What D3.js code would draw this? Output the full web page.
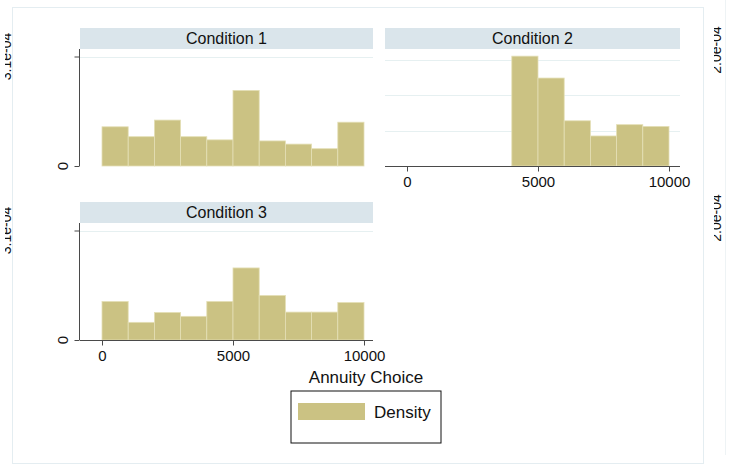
<!DOCTYPE html>
<html>
<head>
<meta charset="utf-8">
<script src="https://cdn.jsdelivr.net/npm/d3@7"></script>
<style>
  html, body { margin: 0; padding: 0; background: #fff; }
  svg { display: block; font-family: "Liberation Sans", Arial, sans-serif; }
</style>
</head>
<body>
<svg width="730" height="464"></svg>
<script>
// histogram bins (lower edge) and densities, in units of 1e-4
const binWidth = 1000;
const cond1Bins = [0, 1000, 2000, 3000, 4000, 5000, 6000, 7000, 8000, 9000];
const cond1Density = [1.11, 0.83, 1.30, 0.83, 0.74, 2.14, 0.71, 0.62, 0.49, 1.24];
const cond2Bins = [4000, 5000, 6000, 7000, 8000, 9000];
const cond2Density = [3.11, 2.49, 1.28, 0.85, 1.17, 1.12];
const cond3Bins = [0, 1000, 2000, 3000, 4000, 5000, 6000, 7000, 8000, 9000];
const cond3Density = [1.09, 0.50, 0.78, 0.67, 1.09, 2.04, 1.26, 0.79, 0.79, 1.06];

const panelTitles = ["Condition 1", "Condition 2", "Condition 3"];
const xTicks = [0, 5000, 10000];
const yTicks = [0, 3.1e-4];
const yTickLabels = ["0", "3.1e-04"];
const gridTicks = [1e-4, 2e-4, 3e-4];
const rightLabel = "2.0e-04";
const xTitle = "Annuity Choice";
const legendLabel = "Density";

const svg = d3.select("svg");
const barFill = "#cbc283";
const stripFill = "#dae5eb";
const axisColor = "#4a4a4a";

// outer graph region
svg.append("rect").attr("x", 12.5).attr("y", 7.5).attr("width", 691).attr("height", 456)
  .attr("fill", "none").attr("stroke", "#e4edf1");
svg.append("line").attr("x1", 725.5).attr("x2", 725.5).attr("y1", 0).attr("y2", 455)
  .attr("stroke", "#eef3f5");

// edge labels are partly cut off in the original
svg.append("defs").append("clipPath").attr("id", "clipLeft")
  .append("rect").attr("x", 5).attr("y", 0).attr("width", 725).attr("height", 464);
svg.select("defs").append("clipPath").attr("id", "clipRight")
  .append("rect").attr("x", 714).attr("y", 0).attr("width", 16).attr("height", 464);

const panels = [
  { title: panelTitles[0], bins: cond1Bins, dens: cond1Density, left: 80, right: 373, base: 166, strip: 28, yAxis: true, xAxis: false, grid: "top" },
  { title: panelTitles[1], bins: cond2Bins, dens: cond2Density, left: 385, right: 680, base: 166, strip: 28, yAxis: false, xAxis: true, grid: "all" },
  { title: panelTitles[2], bins: cond3Bins, dens: cond3Density, left: 80, right: 373, base: 340, strip: 202, yAxis: true, xAxis: true, grid: "top" }
];

panels.forEach(function (p, i) {
  let x = d3.scaleLinear().domain([0, 10000]).range([p.left + 22, p.left + 284]);
  let y = d3.scaleLinear().domain([0, 3.1e-4]).range([p.base, p.base - 109.5]);

  // strip
  svg.append("rect").attr("x", p.left).attr("y", p.strip)
    .attr("width", p.right - p.left).attr("height", 21).attr("fill", stripFill);
  svg.append("text").attr("x", (p.left + p.right) / 2).attr("y", p.strip + 16)
    .attr("text-anchor", "middle").attr("font-size", 16).attr("fill", "#111").text(p.title);

  // gridlines
  let gv = p.grid === "top" ? [yTicks[1]] : gridTicks;
  svg.append("g").selectAll("line").data(gv).enter().append("line")
    .attr("x1", p.left).attr("x2", p.right)
    .attr("y1", d => Math.round(y(d)) + 0.5).attr("y2", d => Math.round(y(d)) + 0.5)
    .attr("stroke", "#e6f0f1").attr("stroke-width", 1);

  // bars
  svg.append("g").selectAll("rect").data(p.bins).enter().append("rect")
    .attr("x", d => x(d))
    .attr("width", d => x(d + binWidth) - x(d))
    .attr("y", (d, j) => y(p.dens[j] * 1e-4))
    .attr("height", (d, j) => p.base - y(p.dens[j] * 1e-4))
    .attr("fill", barFill)
    .attr("stroke", "#e4dfb6").attr("stroke-width", 0.8);

  if (p.yAxis) {
    let ay = svg.append("g").attr("transform", "translate(" + (p.left - 0.5) + ",0)")
      .call(d3.axisLeft(y).tickValues(yTicks).tickSize(5).tickSizeOuter(0).tickFormat(""));
    ay.select(".domain").attr("stroke", axisColor).attr("d", "M0," + (p.strip + 21) + "V" + p.base);
    ay.selectAll(".tick line").attr("stroke", axisColor);

    svg.append("text")
      .attr("transform", "translate(" + (p.left - 12) + "," + y(0) + ") rotate(-90)")
      .attr("text-anchor", "middle").attr("font-size", 15).attr("fill", "#111").text(yTickLabels[0]);

    svg.append("g").attr("clip-path", "url(#clipLeft)").append("text")
      .attr("transform", "translate(11," + y(yTicks[1]) + ") rotate(-90)")
      .attr("text-anchor", "middle").attr("font-size", 14).attr("fill", "#111").text(yTickLabels[1]);
  }

  if (p.xAxis) {
    let ax = svg.append("g").attr("transform", "translate(0," + (p.base + 0.5) + ")")
      .call(d3.axisBottom(x).tickValues(xTicks).tickSize(5).tickSizeOuter(0).tickPadding(5)
        .tickFormat(d3.format("d")));
    ax.select(".domain").attr("stroke", axisColor).attr("d", "M" + p.left + ",0H" + p.right);
    ax.selectAll(".tick line").attr("stroke", axisColor);
    ax.selectAll(".tick text").attr("font-size", 15).attr("fill", "#111")
      .attr("font-family", "Liberation Sans, Arial, sans-serif");
  }

  if (i < 2) {
    svg.append("g").attr("clip-path", "url(#clipRight)").append("text")
      .attr("transform", "translate(721," + (i === 0 ? 50 : 218) + ") rotate(-90)")
      .attr("text-anchor", "middle").attr("font-size", 14).attr("fill", "#111").text(rightLabel);
  }
});

// x title
svg.append("text").attr("x", 366).attr("y", 383).attr("text-anchor", "middle")
  .attr("font-size", 17).attr("fill", "#111").text(xTitle);

// legend
svg.append("rect").attr("x", 291).attr("y", 391).attr("width", 150).attr("height", 52)
  .attr("fill", "#fff").attr("stroke", "#111").attr("stroke-width", 1);
svg.append("rect").attr("x", 298).attr("y", 403).attr("width", 67).attr("height", 17)
  .attr("fill", barFill);
svg.append("text").attr("x", 374).attr("y", 418).attr("font-size", 17).attr("fill", "#111")
  .text(legendLabel);
</script>
</body>
</html>
